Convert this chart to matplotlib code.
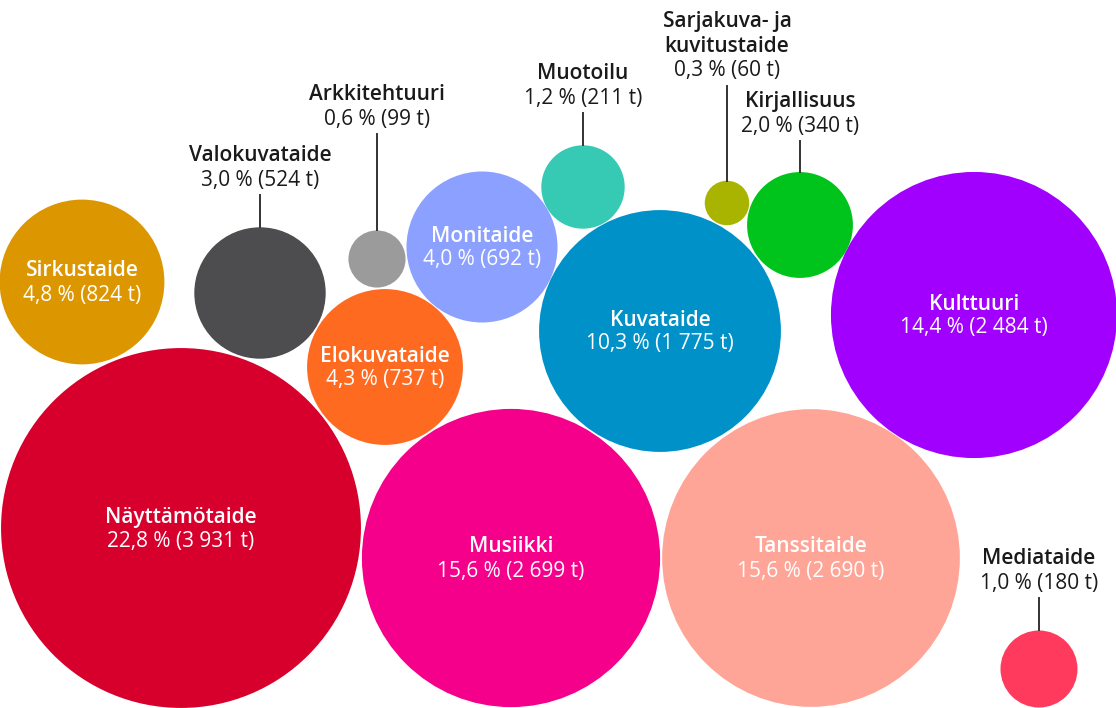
import matplotlib.pyplot as plt
from matplotlib.patches import Circle

# data
names = ["Näyttämötaide", "Musiikki", "Tanssitaide", "Kulttuuri", "Kuvataide",
         "Sirkustaide", "Elokuvataide", "Monitaide", "Valokuvataide", "Kirjallisuus",
         "Muotoilu", "Mediataide", "Arkkitehtuuri", "Sarjakuva- ja\nkuvitustaide"]
shares = [22.8, 15.6, 15.6, 14.4, 10.3, 4.8, 4.3, 4.0, 3.0, 2.0, 1.2, 1.0, 0.6, 0.3]
tonnes = [3931, 2699, 2690, 2484, 1775, 824, 737, 692, 524, 340, 211, 180, 99, 60]

# layout (pixel coords, y down)
centers = [(181, 528), (511, 558), (811, 558), (974, 315), (660, 331),
           (82, 282), (385, 367), (482, 247), (260, 293), (800, 225),
           (583, 187), (1039, 669), (377, 259), (727, 203)]
inside = [True, True, True, True, True, True, True, True,
          False, False, False, False, False, False]
leader = [0, 0, 0, 0, 0, 0, 0, 0, 32, 31, 32, 32, 96, 95]
colors = ["#d7002c", "#f5008b", "#ffa597", "#a100ff", "#0091c8",
          "#dc9600", "#ff6a21", "#8ca0ff", "#4d4d4f", "#00c41c",
          "#36c9b4", "#ff3a5d", "#9b9b9b", "#a8b400"]

scale = 2.87
font = "Open Sans"
fs = 15


def fmt(share, t):
    s = f"{share:.1f}".replace(".", ",")
    tt = f"{t:,}".replace(",", " ")
    return f"{s} % ({tt} t)"


fig = plt.figure(figsize=(11.16, 7.08), dpi=100)
ax = fig.add_axes([0, 0, 1, 1])
ax.set_xlim(0, 1116)
ax.set_ylim(708, 0)
ax.set_aspect("equal")
ax.axis("off")

for i, name in enumerate(names):
    cx, cy = centers[i]
    r = scale * tonnes[i] ** 0.5
    ax.add_patch(Circle((cx, cy), r, color=colors[i], lw=0))
    val = fmt(shares[i], tonnes[i])
    if inside[i]:
        ax.text(cx, cy - 11, name, ha="center", va="center", color="white",
                fontsize=fs, fontweight="semibold", family=font)
        ax.text(cx, cy + 13, val, ha="center", va="center", color="white",
                fontsize=fs, family=font)
    else:
        top = cy - r
        y0 = top - leader[i]
        ax.plot([cx, cx], [top, y0], color="#333333", lw=1.4)
        vy = y0 - 15
        ax.text(cx, vy, val, ha="center", va="center", color="#1a1a1a",
                fontsize=fs, family=font)
        lines = name.split("\n")
        for j, ln in enumerate(reversed(lines)):
            ax.text(cx, vy - 24.5 * (j + 1), ln, ha="center", va="center",
                    color="#1a1a1a", fontsize=fs, fontweight="semibold", family=font)

fig.savefig("out.png", dpi=100)
